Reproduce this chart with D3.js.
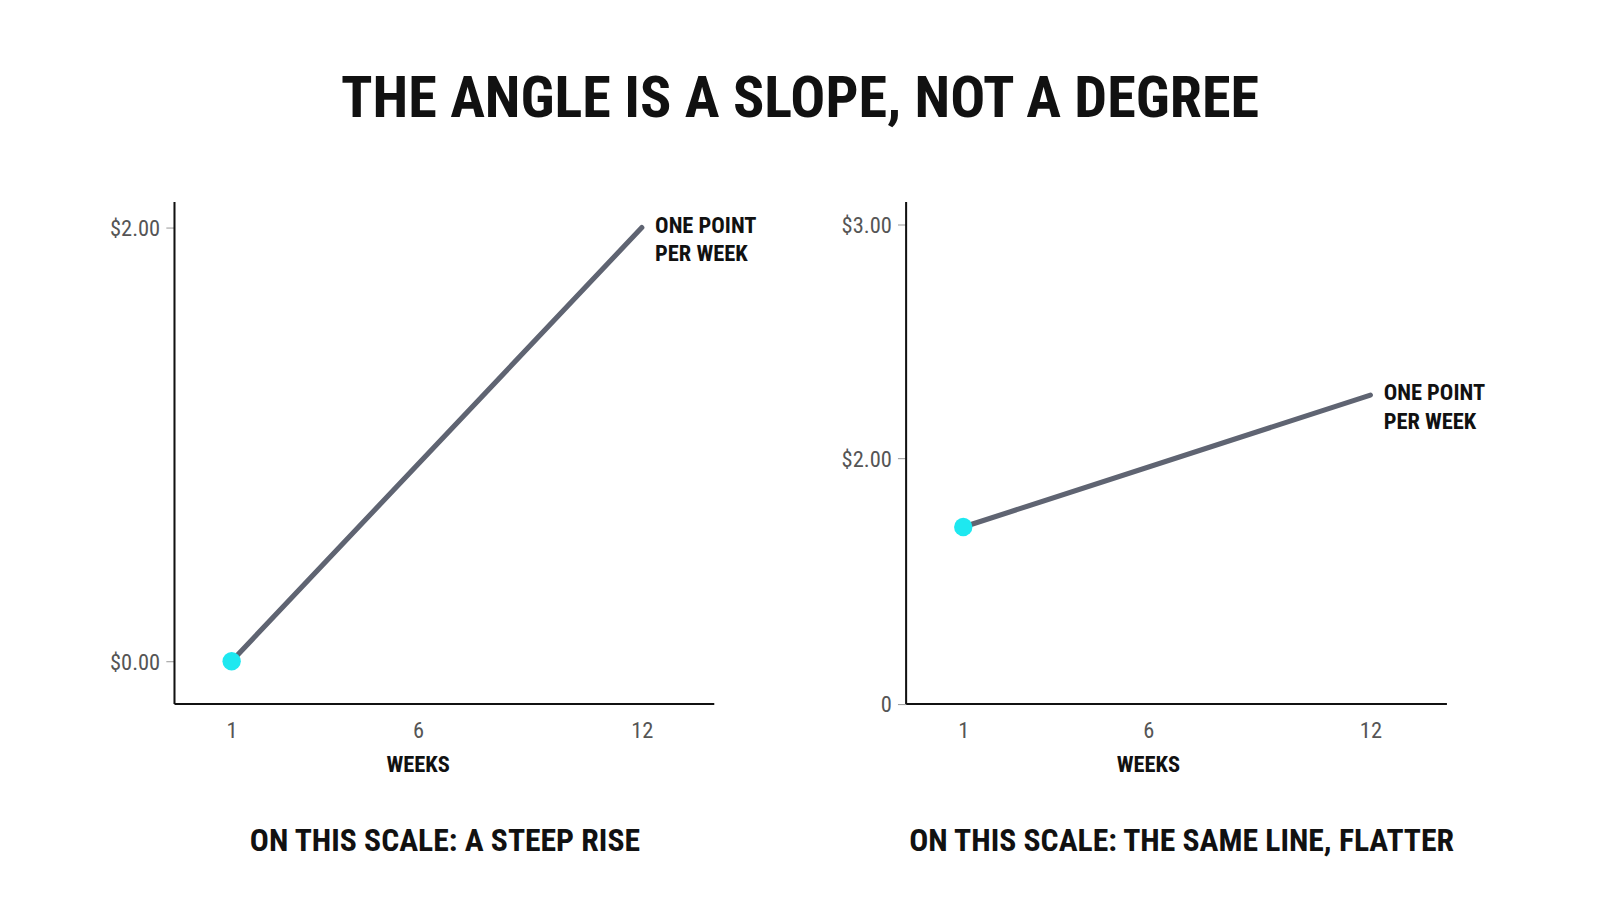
<!DOCTYPE html><html><head><meta charset="utf-8">
<script src="https://cdn.jsdelivr.net/npm/d3@7"></script>
<style>body{margin:0;background:#fff}text{font-family:"Liberation Sans Narrow","Roboto Condensed",Roboto,sans-serif}</style>
</head><body><svg id="c" width="1600" height="914"></svg>
<script>
const title="THE ANGLE IS A SLOPE, NOT A DEGREE";
const weeks=[1,12];
const xTicks=[1,6,12];
const leftValues=[0,2];
const leftTicks=[0,2];
const rightValues=[1.44,2.27];
const rightTicks=[0,2,3];
const lineLabel=["ONE POINT","PER WEEK"];
const captions=["ON THIS SCALE: A STEEP RISE","ON THIS SCALE: THE SAME LINE, FLATTER"];
const svg=d3.select("#c").append("g").attr("transform","scale(1.0204)");
svg.append("text").attr("x",784).attr("y",115).attr("text-anchor","middle").attr("font-size",57).attr("font-weight","bold").attr("fill","#111").text(title);
function panel(x0,x1,xs,ys,vals,ticks,fmt,cap,capX){
  const x=d3.scaleLinear().domain([1,12]).range(xs);
  const y=ys;
  const g=svg.append("g");
  const xa=g.append("g").attr("transform","translate(0,690)").call(d3.axisBottom(x).tickValues(xTicks).tickSize(0).tickPadding(18));
  xa.select(".domain").remove();
  g.append("line").attr("x1",x0).attr("x2",x1).attr("y1",690).attr("y2",690).attr("stroke","#111").attr("stroke-width",2);
  const ya=g.append("g").attr("transform",`translate(${x0},0)`).call(d3.axisLeft(y).tickValues(ticks).tickFormat(fmt).tickSize(8).tickPadding(6));
  ya.select(".domain").remove();
  g.append("line").attr("x1",x0).attr("x2",x0).attr("y1",198).attr("y2",690).attr("stroke","#111").attr("stroke-width",2);
  g.selectAll(".tick text").attr("font-size",22).attr("fill","#555").attr("font-family",'"Liberation Sans Narrow",Roboto,sans-serif');
  ya.selectAll(".tick line").attr("stroke","#999");
  ya.selectAll(".tick text").attr("dy","0.35em");
  g.append("text").attr("x",x(6)).attr("y",757).attr("text-anchor","middle").attr("font-size",22).attr("font-weight","bold").attr("fill","#111").text("WEEKS");
  const pts=weeks.map((w,i)=>[x(w),y(vals[i])]);
  g.append("path").attr("d",d3.line()(pts)).attr("stroke","#5f6472").attr("stroke-width",5).attr("stroke-linecap","round").attr("fill","none");
  g.append("circle").attr("cx",pts[0][0]).attr("cy",pts[0][1]).attr("r",9).attr("fill","#1ee8f0");
  lineLabel.forEach((t,i)=>g.append("text").attr("x",pts[1][0]+13).attr("y",pts[1][1]+5+i*28).attr("font-size",22).attr("font-weight","bold").attr("fill","#111").text(t));
  svg.append("text").attr("x",capX).attr("y",834).attr("text-anchor","middle").attr("font-size",31).attr("font-weight","bold").attr("fill","#111").text(cap);
}
panel(171,700,[227,629],d3.scaleLinear().domain([0,2]).range([648,223]),leftValues,leftTicks,d=>"$"+d.toFixed(2),captions[0],436);
panel(888,1418,[944,1343],d3.scaleLinear().domain([0,2,3]).range([690,449,220]),rightValues,rightTicks,d=>d===0?"0":"$"+d.toFixed(2),captions[1],1158);
</script></body></html>
